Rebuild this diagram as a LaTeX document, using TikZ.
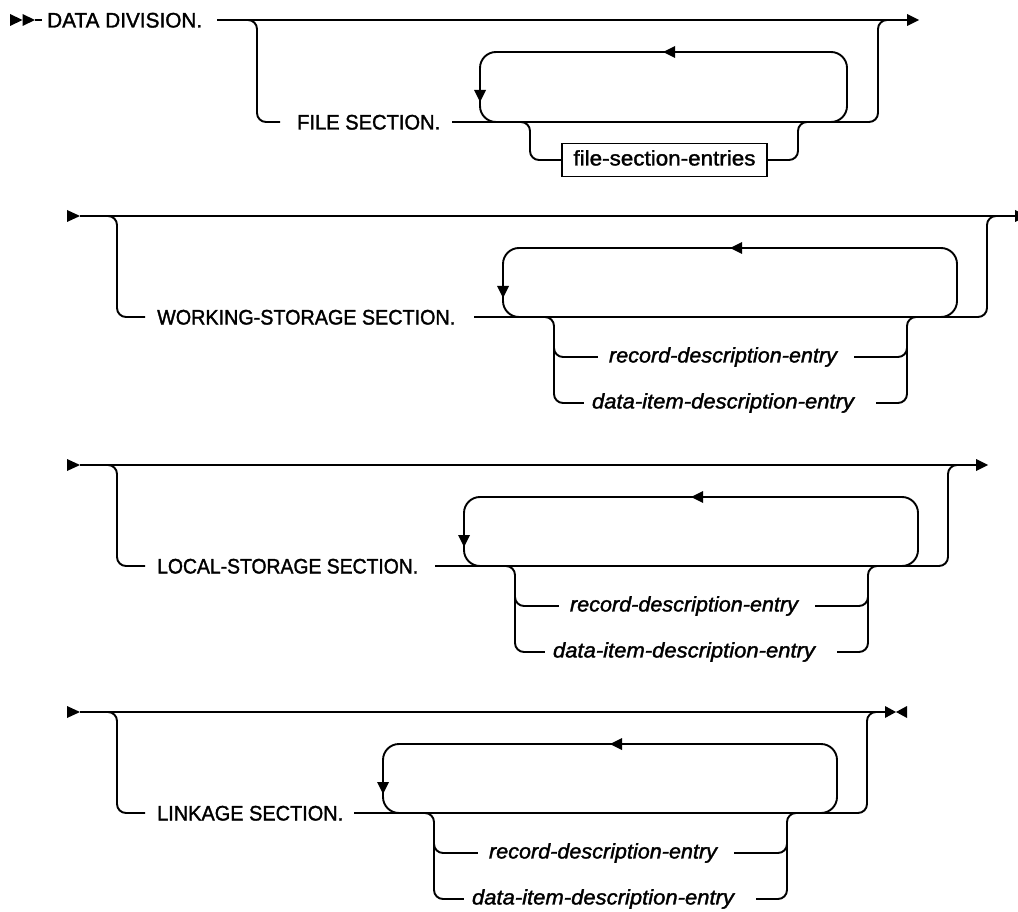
\documentclass[tikz,border=0pt]{standalone}
\usepackage{fontspec}
\setmainfont{Liberation Sans}[FakeBold=1.6]
\usepackage{graphicx}
\tikzset{
  rr/.style={line width=1.9pt},
  brpath/.style={line width=1.9pt, rounded corners=9pt},
  looppath/.style={line width=1.9pt, rounded corners=16pt},
  caps/.style={font=\fontsize{21}{25}\selectfont, text height=15pt, text depth=0pt, inner sep=0pt},
  ital/.style={font=\fontsize{21}{25}\selectfont\itshape, text height=10.9pt, text depth=0pt, inner sep=0pt},
  kbox/.style={draw, line width=1.6pt, font=\fontsize{21}{25}\selectfont, text height=10.9pt, text depth=0pt, inner xsep=11.5pt, inner ysep=0pt, minimum height=33pt},
}
\newcommand\fitw[2]{\resizebox{#1pt}{\height}{#2}}
% #1 prefix, #2 y0, #3 label, #4 loop left x, #5 end x of top line
\newcommand\secrow[5]{%
\begin{scope}[shift={(0,#2)}]
  \fill (67,-6) -- (80,0) -- (67,6) -- cycle;
  \draw[rr] (80,0) -- (#5,0);
  \node[caps, anchor=west] (#1sec) at (157,101) {#3};
  \draw[brpath] (105,0) -| (117,101) -- ([xshift=-12pt]#1sec.west);
  \draw[brpath] (#4-29,101) -| (#4+484,0) -- (#4+496,0);
  \draw[looppath] (#4+20,101) -| (#4,32) -| (#4+454,101) -- (#4+434,101);
  \fill (#4-6,70) -- (#4+6,70) -- (#4,82) -- cycle;
  \fill (#4+239,26) -- (#4+239,38) -- (#4+227,32) -- cycle;
  \node[ital] (#1rec) at (#4+220,141) {\fitw{228}{record-description-entry}};
  \node[ital] (#1dat) at (#4+220,187) {\fitw{262}{data-item-description-entry}};
  \draw[brpath] (#4+39,101) -| (#4+51,187) -- ([xshift=-8pt]#1dat.west);
  \draw[brpath] (#4+51,120) |- ([xshift=-11pt]#1rec.west);
  \draw[brpath] ([xshift=17pt]#1rec.east) -| (#4+404,120);
  \draw[brpath] ([xshift=22pt]#1dat.east) -| (#4+404,101) -- (#4+416,101);
\end{scope}}
\begin{document}
\begin{tikzpicture}[x=1pt,y=-1pt]
\useasboundingbox (0,0) rectangle (1018,912);
% ---- row 1
\fill (10,14) -- (22.5,20) -- (10,26) -- cycle;
\fill (22.5,14) -- (35,20) -- (22.5,26) -- cycle;
\node[caps, anchor=west] (dd) at (47,20) {\fitw{155}{DATA DIVISION.}};
\draw[rr] (35,20) -- ([xshift=-5pt]dd.west);
\draw[rr] (217,20) -- (907,20);
\fill (907,14) -- (919,20) -- (907,26) -- cycle;
\node[caps, anchor=west] (fs) at (297,122) {\fitw{143}{FILE SECTION.}};
\draw[brpath] (245,20) -| (257,122) -- ([xshift=-17pt]fs.west);
\draw[brpath] (452,122) -| (878,20) -- (890,20);
\draw[looppath] (500,122) -| (480,52) -| (847,122) -- (827,122);
\fill (474,90) -- (486,90) -- (480,102) -- cycle;
\fill (675,46) -- (675,58) -- (663,52) -- cycle;
\node[kbox] (fse) at (664.5,160) {\fitw{182}{file-section-entries}};
\draw[brpath] (518,122) -| (530,160) -- (fse.west);
\draw[brpath] (fse.east) -| (798,122) -- (810,122);
% ---- row 2
\secrow{w}{216}{\fitw{298}{WORKING-STORAGE SECTION.}}{503}{1015}
\fill (1015,210) -- (1027,216) -- (1015,222) -- cycle;
% ---- row 3
\secrow{l}{465}{\fitw{261}{LOCAL-STORAGE SECTION.}}{464}{976}
\fill (976,459) -- (988,465) -- (976,471) -- cycle;
% ---- row 4
\secrow{k}{712}{\fitw{186}{LINKAGE SECTION.}}{383}{885}
\fill (885,706) -- (896,712) -- (885,718) -- cycle;
\fill (907,706) -- (896,712) -- (907,718) -- cycle;
\end{tikzpicture}
\end{document}
